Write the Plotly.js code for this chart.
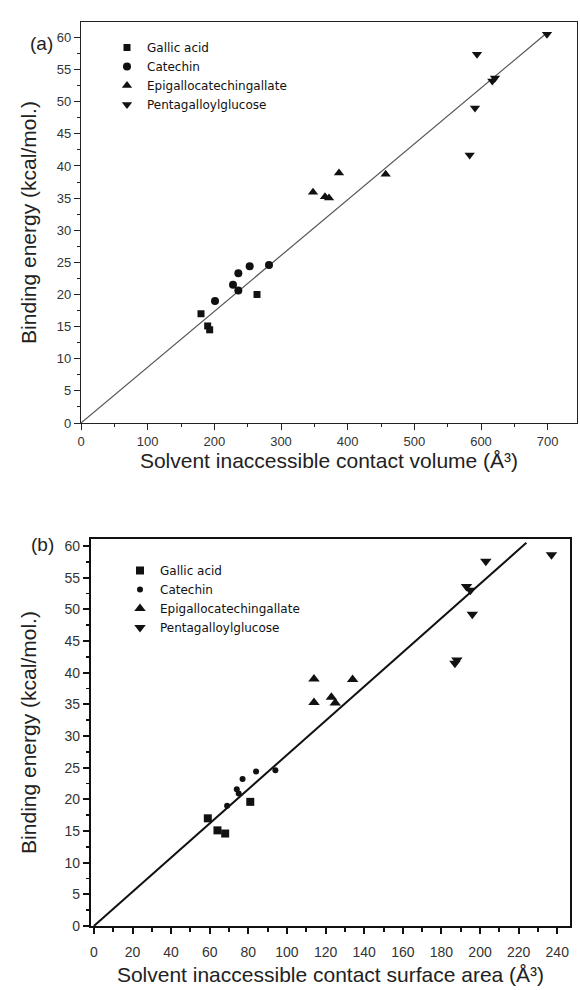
<!DOCTYPE html>
<html>
<head>
<meta charset="utf-8">
<script src="https://cdn.plot.ly/plotly-3.0.1.min.js"></script>
<style>html,body{margin:0;padding:0;background:#fff;}#chart{width:580px;height:990px;}</style>
</head>
<body>
<div id="chart"></div>
<script>
// ---- Panel (a): Solvent inaccessible contact volume ----
const gallicA_x = [180, 190, 193, 264];
const gallicA_y = [17.0, 15.1, 14.5, 20.0];
const catechinA_x = [201, 228, 236, 236, 253, 282];
const catechinA_y = [19.0, 21.5, 20.6, 23.3, 24.4, 24.6];
const egcgA_x = [348, 366, 372, 387, 457];
const egcgA_y = [35.9, 35.2, 35.0, 38.9, 38.7];
const pggA_x = [583, 591, 594, 617, 621, 699];
const pggA_y = [41.7, 49.0, 57.4, 53.2, 53.7, 60.5];
const fitA_x = [0, 700];
const fitA_y = [0, 60.8];

// ---- Panel (b): Solvent inaccessible contact surface area ----
const gallicB_x = [59, 64, 68, 81];
const gallicB_y = [17.0, 15.1, 14.6, 19.6];
const catechinB_x = [69, 74, 75, 77, 84, 94];
const catechinB_y = [19.0, 21.6, 20.9, 23.2, 24.4, 24.6];
const egcgB_x = [114, 114, 123, 125, 134];
const egcgB_y = [39.0, 35.3, 36.1, 35.2, 38.9];
const pggB_x = [187, 188, 193, 195, 196, 203, 237];
const pggB_y = [41.5, 42.0, 53.6, 53.0, 49.2, 57.6, 58.6];
const fitB_x = [0, 224];
const fitB_y = [0, 60.5];

const seriesNames = ['Gallic acid', 'Catechin', 'Epigallocatechingallate', 'Pentagalloylglucose'];
const xTitleA = 'Solvent inaccessible contact volume (Å³)';
const xTitleB = 'Solvent inaccessible contact surface area (Å³)';
const yTitle = 'Binding energy (kcal/mol.)';

const W = 580, H = 990;
const px = v => v / W;
const py = v => 1 - v / H;

function pts(x, y, name, symbol, size, xa, ya, leg) {
  return {x: x, y: y, name: name, type: 'scatter', mode: 'markers',
    xaxis: xa, yaxis: ya, legend: leg,
    marker: {symbol: symbol, size: size, color: '#111', line: {width: 0}}};
}

const traces = [
  {x: fitA_x, y: fitA_y, type: 'scatter', mode: 'lines', xaxis: 'x', yaxis: 'y', showlegend: false,
   line: {color: '#555', width: 1.2}, hoverinfo: 'skip'},
  pts(gallicA_x, gallicA_y, seriesNames[0], 'square', 7, 'x', 'y', 'legend'),
  pts(catechinA_x, catechinA_y, seriesNames[1], 'circle', 8, 'x', 'y', 'legend'),
  pts(egcgA_x, egcgA_y, seriesNames[2], 'triangle-up', 9, 'x', 'y', 'legend'),
  pts(pggA_x, pggA_y, seriesNames[3], 'triangle-down', 9, 'x', 'y', 'legend'),

  {x: fitB_x, y: fitB_y, type: 'scatter', mode: 'lines', xaxis: 'x2', yaxis: 'y2', showlegend: false,
   line: {color: '#111', width: 2}, hoverinfo: 'skip'},
  pts(gallicB_x, gallicB_y, seriesNames[0], 'square', 8, 'x2', 'y2', 'legend2'),
  pts(catechinB_x, catechinB_y, seriesNames[1], 'circle', 6, 'x2', 'y2', 'legend2'),
  pts(egcgB_x, egcgB_y, seriesNames[2], 'triangle-up', 10, 'x2', 'y2', 'legend2'),
  pts(pggB_x, pggB_y, seriesNames[3], 'triangle-down', 10, 'x2', 'y2', 'legend2')
];

const baseFont = 'Liberation Sans, Arial, sans-serif';

function axis(opts) {
  return Object.assign({
    showgrid: false, zeroline: false, showline: true, mirror: true,
    linecolor: '#222', ticks: 'outside', tickcolor: '#222',
    tickfont: {family: baseFont, size: 13, color: '#333'},
    automargin: false, fixedrange: true
  }, opts);
}

const layout = {
  width: W, height: H,
  margin: {l: 0, r: 0, t: 0, b: 0},
  paper_bgcolor: '#fff', plot_bgcolor: '#fff',
  font: {family: baseFont, color: '#222'},
  showlegend: true,
  xaxis: axis({domain: [px(81), px(577)], range: [0, 744], anchor: 'y', tick0: 0, dtick: 100,
    ticklen: 6, tickwidth: 1, linewidth: 1.2,
    minor: {dtick: 50, ticklen: 3, ticks: 'outside', tickcolor: '#222'},
    title: {text: xTitleA, font: {family: baseFont, size: 21, color: '#222'}, standoff: 4}}),
  yaxis: axis({domain: [py(423), py(22)], range: [0, 62.4], anchor: 'x', tick0: 0, dtick: 5,
    ticklen: 6, tickwidth: 1, linewidth: 1.2,
    minor: {dtick: 2.5, ticklen: 3, ticks: 'outside', tickcolor: '#222'},
    title: {text: yTitle, font: {family: baseFont, size: 21, color: '#222'}, standoff: 14}}),
  xaxis2: axis({domain: [px(91), px(570)], range: [-1.5, 246.6], anchor: 'y2', tick0: 0, dtick: 20,
    ticklen: 6, tickwidth: 2, linewidth: 2.2, linecolor: '#111', tickcolor: '#111',
    ticklabelstandoff: 6,
    tickfont: {family: baseFont, size: 14, color: '#333'},
    minor: {dtick: 10, ticklen: 4, ticks: 'outside', tickcolor: '#111', tickwidth: 2},
    title: {text: xTitleB, font: {family: baseFont, size: 21, color: '#222'}, standoff: 8}}),
  yaxis2: axis({domain: [py(926), py(539)], range: [0, 61.1], anchor: 'x2', tick0: 0, dtick: 5,
    ticklen: 6, tickwidth: 2, linewidth: 2.2, linecolor: '#111', tickcolor: '#111',
    tickfont: {family: baseFont, size: 14, color: '#333'},
    minor: {dtick: 2.5, ticklen: 3, ticks: 'outside', tickcolor: '#111', tickwidth: 1.5},
    title: {text: yTitle, font: {family: baseFont, size: 21, color: '#222'}, standoff: 22}}),
  legend: {x: px(107), y: py(33), xanchor: 'left', yanchor: 'top', bgcolor: 'rgba(0,0,0,0)',
    font: {family: 'DejaVu Sans, sans-serif', size: 12, color: '#111'}, tracegroupgap: 0, itemclick: false},
  legend2: {x: px(120), y: py(556), xanchor: 'left', yanchor: 'top', bgcolor: 'rgba(0,0,0,0)',
    font: {family: 'DejaVu Sans, sans-serif', size: 12, color: '#111'}, tracegroupgap: 0, itemclick: false},
  annotations: [
    {text: '(a)', x: px(28), y: py(31), xref: 'paper', yref: 'paper', showarrow: false,
     font: {family: baseFont, size: 19, color: '#222'}},
    {text: '(b)', x: px(29), y: py(544), xref: 'paper', yref: 'paper', showarrow: false,
     font: {family: baseFont, size: 19, color: '#222'}}
  ]
};

Plotly.newPlot('chart', traces, layout, {displayModeBar: false, staticPlot: true});
</script>
</body>
</html>
